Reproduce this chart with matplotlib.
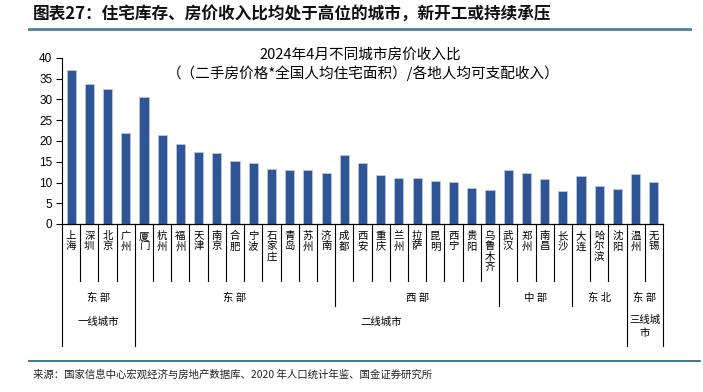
import matplotlib
matplotlib.use("Agg")
import matplotlib.pyplot as plt
from matplotlib.transforms import blended_transform_factory

plt.rcParams['font.family'] = ['Noto Sans CJK SC', 'DejaVu Sans']

# city names and house price / income ratio (April 2024)
cities = ["上海", "深圳", "北京", "广州",
          "厦门", "杭州", "福州", "天津", "南京", "合肥", "宁波", "石家庄",
          "青岛", "苏州", "济南",
          "成都", "西安", "重庆", "兰州", "拉萨", "昆明", "西宁", "贵阳", "乌鲁木齐",
          "武汉", "郑州", "南昌", "长沙",
          "大连", "哈尔滨", "沈阳",
          "温州", "无锡"]
ratios = [37.2, 33.8, 32.5, 21.9,
          30.7, 21.5, 19.2, 17.3, 17.1, 15.1, 14.8, 13.3,
          13.1, 12.9, 12.4,
          16.6, 14.6, 11.7, 11.2, 11.0, 10.4, 10.2, 8.6, 8.2,
          13.1, 12.4, 10.8, 8.0,
          11.5, 9.1, 8.4,
          12.0, 10.2]

# region groups: (label, number of cities)
regions = [("东 部", 4), ("东 部", 11), ("西 部", 9), ("中 部", 4), ("东 北", 3), ("东 部", 2)]
# city tiers: (label, number of cities)
tiers = [("一线城市", 4), ("二线城市", 27), ("三线城\n市", 2)]

W, H = 703, 392
fig = plt.figure(figsize=(W / 100, H / 100), dpi=100)


def fy(py):
    # pixel row -> figure fraction
    return 1 - py / H


ax = fig.add_axes([62 / W, fy(224), (663 - 62) / W, (224 - 58) / H])
x = list(range(len(cities)))
ax.bar(x, ratios, width=0.5, color="#2F5597", edgecolor="#B8C6E0", linewidth=0.6)
ax.set_xlim(-0.5, len(cities) - 0.5)
ax.set_ylim(0, 40)
ax.set_yticks(range(0, 41, 5))
ax.set_xticks([])
for lab in ax.get_yticklabels():
    lab.set_family(['Liberation Sans', 'DejaVu Sans'])
ax.tick_params(axis="y", direction="out", length=4, width=0.8, labelsize=8.5, pad=3)
ax.spines["top"].set_visible(False)
ax.spines["right"].set_visible(False)
ax.spines["left"].set_linewidth(0.8)
ax.spines["bottom"].set_linewidth(0.9)

# category table below the axis
tr = blended_transform_factory(ax.transData, fig.transFigure)
y0, y_city, y_reg, y_tier = fy(224), fy(281), fy(306), fy(346)

for i, name in enumerate(cities):
    ax.text(i, fy(231), "\n".join(name), transform=tr, ha="center", va="top",
            fontsize=7.5, linespacing=1.05)

reg_edges = []
pos = -0.5
for lab, n in regions:
    ax.text(pos + n / 2, fy(298), lab, transform=tr, ha="center", va="center", fontsize=7.5)
    pos += n
    reg_edges.append(pos)

tier_edges = [-0.5]
pos = -0.5
for lab, n in tiers:
    if "\n" in lab:
        ax.text(pos + n / 2, fy(315), lab, transform=tr, ha="center", va="top",
                fontsize=7.5, linespacing=1.35)
    else:
        ax.text(pos + n / 2, fy(322), lab, transform=tr, ha="center", va="center", fontsize=7.5)
    pos += n
    tier_edges.append(pos)

for k in range(len(cities) + 1):
    b = k - 0.5
    if b in tier_edges:
        yb = y_tier
    elif b in reg_edges:
        yb = y_reg
    else:
        yb = y_city
    ax.plot([b, b], [y0, yb], transform=tr, color="black", lw=0.8, clip_on=False)

# chart titles
fig.text(360 / W, fy(55), "2024年4月不同城市房价收入比", ha="center", va="center", fontsize=10.5)
fig.text(363 / W, fy(73), "（（二手房价格*全国人均住宅面积）/各地人均可支配收入）",
         ha="center", va="center", fontsize=10.5)

# report header and footer
fig.text(33 / W, fy(15), "图表27：住宅库存、房价收入比均处于高位的城市，新开工或持续承压",
         ha="left", va="center", fontsize=12, fontweight="bold", style="italic", color="#111111")
fig.add_artist(plt.Line2D([29 / W, 690 / W], [fy(29), fy(29)], color="#4F8199", lw=2))
fig.add_artist(plt.Line2D([29 / W, 700 / W], [fy(361), fy(361)], color="#1F5C82", lw=1.2))
fig.text(33 / W, fy(375), "来源：国家信息中心宏观经济与房地产数据库、2020 年人口统计年鉴、国金证券研究所",
         ha="left", va="center", fontsize=7.5, color="#222222")

fig.savefig("out.png", dpi=100)
